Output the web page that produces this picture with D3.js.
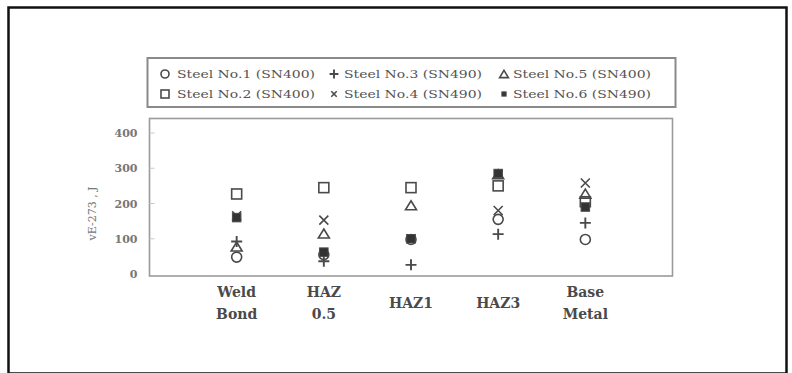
<!DOCTYPE html>
<html>
<head>
<meta charset="utf-8">
<script src="https://cdn.jsdelivr.net/npm/d3@7"></script>
<style>
  html, body { margin: 0; padding: 0; background: #fff; }
  svg { display: block; }
</style>
</head>
<body>
<svg id="chart" width="792" height="373"></svg>
<script>
// Charpy absorbed energy by test location, six steels
const categories = [["Weld", "Bond"], ["HAZ", "0.5"], ["HAZ1"], ["HAZ3"], ["Base", "Metal"]];
const seriesNames = [
  "Steel No.1 (SN400)", "Steel No.2 (SN400)", "Steel No.3 (SN490)",
  "Steel No.4 (SN490)", "Steel No.5 (SN400)", "Steel No.6 (SN490)"
];
const steel1 = [48, 55, 98, 155, 98];
const steel2 = [227, 245, 245, 250, 205];
const steel3 = [92, 36, 26, 113, 145];
const steel4 = [165, 153, 100, 180, 258];
const steel5 = [78, 115, 195, 283, 228];
const steel6 = [160, 62, 100, 285, 190];
const yTicks = [0, 100, 200, 300, 400];
const yLabel = "vE-273 , J";

const seriesValues = [steel1, steel2, steel3, steel4, steel5, steel6];
const markerKinds = ["circle", "square", "plus", "times", "triangle", "filled"];

const svg = d3.select("#chart");
const ink = "#4a4a4a";
const serif = "'DejaVu Serif', 'Liberation Serif', serif";

// outer frame (bottom edge runs to the page edge)
svg.append("rect")
  .attr("x", 8.5).attr("y", 7.5).attr("width", 778).attr("height", 366)
  .attr("fill", "none").attr("stroke", "#111").attr("stroke-width", 2.5);

// plot area
const box = { left: 149.5, top: 118.5, right: 672.5, bottom: 276 };
const x = d3.scalePoint()
  .domain(categories.map(c => c.join(" ")))
  .range([box.left, box.right])
  .padding(1);
const y = d3.scaleLinear().domain([0, 400]).range([274, 133]);

svg.append("rect")
  .attr("x", box.left).attr("y", box.top)
  .attr("width", box.right - box.left).attr("height", box.bottom - box.top)
  .attr("fill", "none").attr("stroke", "#9a9a9a").attr("stroke-width", 1.6);

// y axis: labels outside, short ticks inside the frame
const yAxis = d3.axisLeft(y).tickValues(yTicks).tickSize(0).tickPadding(12);
const gy = svg.append("g").attr("transform", `translate(${box.left},0)`).call(yAxis);
gy.select(".domain").remove();
gy.selectAll("text")
  .attr("font-family", serif).attr("font-size", 11).attr("font-weight", "bold")
  .attr("fill", "#777");
svg.append("g").selectAll("line")
  .data(yTicks.filter(t => t > 0))
  .join("line")
  .attr("x1", box.left).attr("x2", box.left + 5)
  .attr("y1", d => y(d)).attr("y2", d => y(d))
  .attr("stroke", "#c8c8c8").attr("stroke-width", 1);

svg.append("text")
  .attr("transform", `translate(96,${(y(0) + y(400)) / 2 + 10}) rotate(-90)`)
  .attr("text-anchor", "middle")
  .attr("font-family", serif).attr("font-size", 11)
  .attr("fill", "#777")
  .text(yLabel);

// category labels
const catG = svg.append("g");
categories.forEach(lines => {
  const key = lines.join(" ");
  const t = catG.append("text")
    .attr("x", x(key))
    .attr("text-anchor", "middle")
    .attr("font-family", serif).attr("font-size", 14).attr("font-weight", "bold")
    .attr("fill", "#4a4a4a");
  if (lines.length === 1) {
    t.append("tspan").attr("x", x(key)).attr("y", 308).text(lines[0]);
  } else {
    lines.forEach((ln, i) => {
      t.append("tspan").attr("x", x(key)).attr("y", 297 + i * 22).text(ln);
    });
  }
});

// marker shapes
function drawMarker(g, kind, cx, cy, s) {
  const sw = 1.6;
  if (kind === "circle") {
    g.append("circle").attr("cx", cx).attr("cy", cy).attr("r", s * 0.5)
      .attr("fill", "none").attr("stroke", ink).attr("stroke-width", sw);
  } else if (kind === "square") {
    g.append("rect").attr("x", cx - s / 2).attr("y", cy - s / 2)
      .attr("width", s).attr("height", s)
      .attr("fill", "none").attr("stroke", ink).attr("stroke-width", sw);
  } else if (kind === "filled") {
    const f = s * 0.85;
    g.append("rect").attr("x", cx - f / 2).attr("y", cy - f / 2)
      .attr("width", f).attr("height", f)
      .attr("fill", "#333").attr("stroke", ink).attr("stroke-width", 1);
  } else if (kind === "plus") {
    const a = s * 0.55;
    g.append("path")
      .attr("d", `M${cx - a},${cy}H${cx + a}M${cx},${cy - a}V${cy + a}`)
      .attr("stroke", ink).attr("stroke-width", sw + 0.3);
  } else if (kind === "times") {
    const a = s * 0.45;
    g.append("path")
      .attr("d", `M${cx - a},${cy - a}L${cx + a},${cy + a}M${cx - a},${cy + a}L${cx + a},${cy - a}`)
      .attr("stroke", ink).attr("stroke-width", sw);
  } else if (kind === "triangle") {
    const h = s * 0.9, w = s * 0.55;
    g.append("path")
      .attr("d", `M${cx},${cy - h / 2}L${cx + w},${cy + h / 2}L${cx - w},${cy + h / 2}Z`)
      .attr("fill", "none").attr("stroke", ink).attr("stroke-width", sw);
  }
}

// points
const pts = svg.append("g");
seriesValues.forEach((vals, si) => {
  vals.forEach((v, ci) => {
    drawMarker(pts, markerKinds[si], x(categories[ci].join(" ")), y(v), 10);
  });
});

// legend
svg.append("rect")
  .attr("x", 147.5).attr("y", 58).attr("width", 528).attr("height", 49)
  .attr("fill", "none").attr("stroke", "#8a8a8a").attr("stroke-width", 2);

// column-major order: (1,2), (3,4), (5,6)
const legCols = [
  { mx: 165, tx: 177 },
  { mx: 334, tx: 344 },
  { mx: 504, tx: 513 }
];
const legRows = [74, 94];
const legG = svg.append("g");
seriesNames.forEach((name, i) => {
  const col = legCols[Math.floor(i / 2)];
  const ry = legRows[i % 2];
  const kind = markerKinds[i];
  const size = kind === "filled" ? 5 : (kind === "times" ? 6 : 8);
  drawMarker(legG, kind, col.mx, ry, size);
  legG.append("text")
    .attr("x", col.tx).attr("y", ry + 4)
    .attr("font-family", serif).attr("font-size", 11.5)
    .attr("fill", "#555")
    .attr("textLength", 138).attr("lengthAdjust", "spacingAndGlyphs")
    .text(name);
});
</script>
</body>
</html>
